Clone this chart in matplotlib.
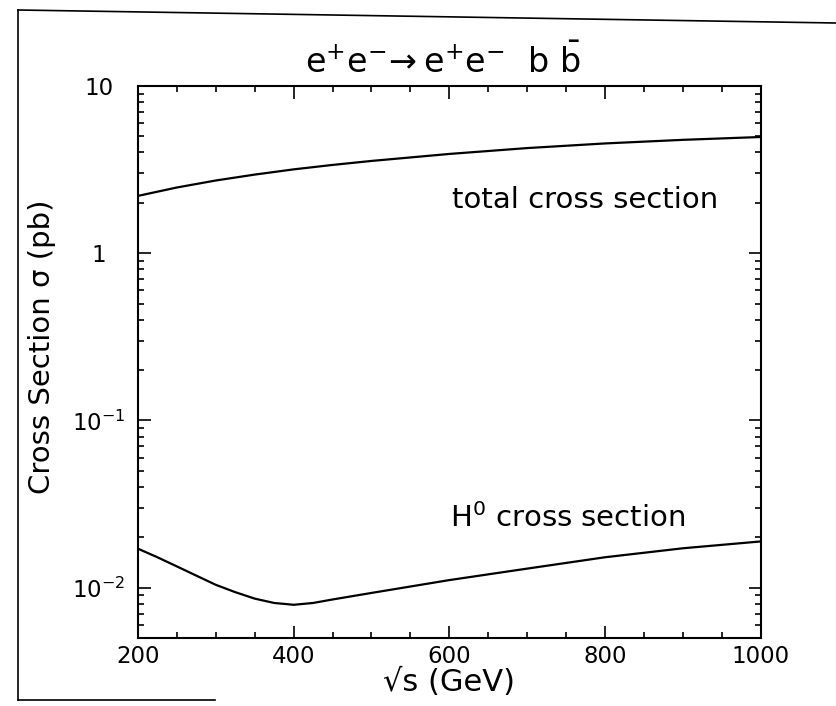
import numpy as np
import matplotlib
matplotlib.use('Agg')
import matplotlib.pyplot as plt
from matplotlib.lines import Line2D
from matplotlib.ticker import MultipleLocator, FixedLocator, LogLocator, NullFormatter

# sqrt(s) in GeV, cross sections in pb
sqrt_s_tot = [200, 250, 300, 350, 400, 450, 500, 600, 700, 800, 900, 1000]
sigma_tot = [2.2, 2.47, 2.72, 2.95, 3.17, 3.37, 3.56, 3.92, 4.25, 4.53, 4.76, 4.95]

sqrt_s_h = [200, 225, 250, 275, 300, 325, 350, 375, 400, 425, 450, 500,
            600, 700, 800, 900, 1000]
sigma_h = [0.0171, 0.0152, 0.0134, 0.0118, 0.0104, 0.0094, 0.0086, 0.0081,
           0.0079, 0.0081, 0.0085, 0.0093, 0.0111, 0.0130, 0.0152, 0.0172, 0.0189]

y_major = [0.01, 0.1, 1, 10]
y_major_labels = [r'$10^{-2}$', r'$10^{-1}$', '1', '10']

plt.rcParams['font.family'] = 'DejaVu Sans'
plt.rcParams['mathtext.default'] = 'regular'

fig = plt.figure(figsize=(8.36, 7.06), dpi=100)
ax = fig.add_axes([0.165, 0.0963, 0.745, 0.782])

ax.plot(sqrt_s_tot, sigma_tot, color='black', lw=1.6)
ax.plot(sqrt_s_h, sigma_h, color='black', lw=1.6)

ax.set_yscale('log')
ax.set_xlim(200, 1000)
ax.set_ylim(0.005, 10)

ax.xaxis.set_major_locator(MultipleLocator(200))
ax.xaxis.set_minor_locator(MultipleLocator(50))
ax.yaxis.set_major_locator(FixedLocator(y_major))
ax.set_yticklabels(y_major_labels)
ax.yaxis.set_minor_locator(LogLocator(base=10, subs=np.arange(2, 10)))
ax.yaxis.set_minor_formatter(NullFormatter())

ax.tick_params(which='both', direction='in', top=True, right=True, width=1.2,
               labelsize=16.5)
ax.tick_params(which='major', length=9)
ax.tick_params(which='minor', length=4.5)
ax.tick_params(axis='y', pad=28)
ax.tick_params(axis='x', pad=5)
for lab in ax.get_yticklabels():
    lab.set_ha('center')
for sp in ax.spines.values():
    sp.set_linewidth(1.5)

ax.set_xlabel('√s (GeV)', fontsize=22, labelpad=0)
ax.text(-0.154, 0.527, 'Cross Section σ (pb)', transform=ax.transAxes,
        rotation=90, ha='center', va='center', fontsize=21)

ax.text(603, 1.86, 'total cross section', fontsize=21, va='baseline')
ax.text(601, 0.0232, r'$H^0$ cross section', fontsize=21, va='baseline')

fig.text(0.53, 0.897, r'$e^{+}e^{-}\!\rightarrow e^{+}e^{-}\ \ b\ \bar{b}$',
         ha='center', va='baseline', fontsize=24)

# page frame around the figure
fig.add_artist(Line2D([18/836, 18/836], [1 - 10/706, 1 - 700/706],
                      transform=fig.transFigure, color='black', lw=1.2))
fig.add_artist(Line2D([18/836, 1.0], [1 - 10/706, 1 - 23/706],
                      transform=fig.transFigure, color='black', lw=1.2))
fig.add_artist(Line2D([18/836, 215/836], [1 - 700/706, 1 - 700/706],
                      transform=fig.transFigure, color='black', lw=1.2))

fig.savefig('out.png', dpi=100)
